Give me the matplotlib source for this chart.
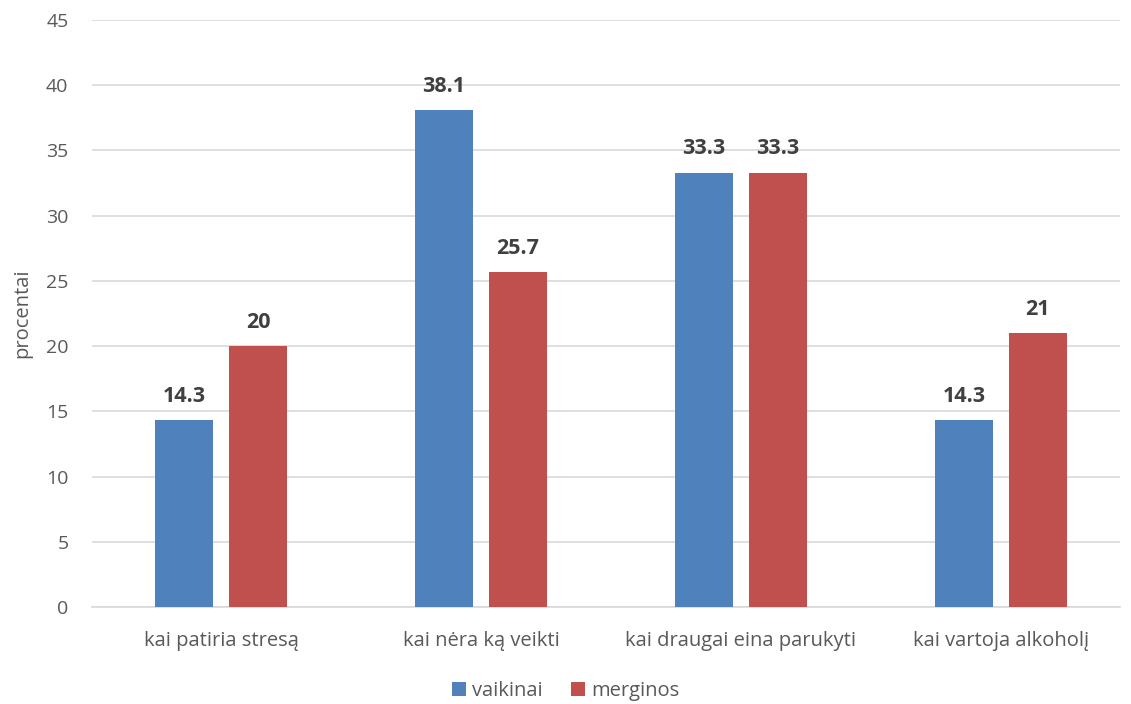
import numpy as np
import matplotlib.pyplot as plt

plt.rcParams['font.family'] = ['Open Sans', 'DejaVu Sans']

categories = ['kai patiria stresą', 'kai nėra ką veikti', 'kai draugai eina parukyti', 'kai vartoja alkoholį']
vaikinai = [14.3, 38.1, 33.3, 14.3]
merginos = [20, 25.7, 33.3, 21]
vaikinai_lbl = ['14.3', '38.1', '33.3', '14.3']
merginos_lbl = ['20', '25.7', '33.3', '21']

blue = '#4F81BD'
red = '#C0504D'
txt = '#595959'

fig = plt.figure(figsize=(11.31, 7.04), dpi=100)
ax = fig.add_axes([0.0814, 0.1378, 0.9089, 0.834])

x = np.arange(len(categories))
w = 0.223
off = 0.142
b1 = ax.bar(x - off, vaikinai, w, color=blue, label='vaikinai', zorder=3)
b2 = ax.bar(x + off, merginos, w, color=red, label='merginos', zorder=3)

for bars, labels in ((b1, vaikinai_lbl), (b2, merginos_lbl)):
    for b, l in zip(bars, labels):
        ax.text(b.get_x() + b.get_width() / 2, b.get_height() + 1.0, l,
                ha='center', va='bottom', fontsize=15.5, fontweight='bold', color='#404040')

ax.set_xlim(-0.496, 3.458)
ax.set_ylim(0, 45)
ax.set_yticks(range(0, 46, 5))
ax.set_xticks(x)
ax.set_xticklabels(categories)
ax.tick_params(axis='both', length=0, colors=txt)
ax.tick_params(axis='x', pad=17, labelsize=14.5)
ax.tick_params(axis='y', pad=17, labelsize=14)
ax.yaxis.grid(True, color='#D9D9D9', linewidth=1.2, zorder=0)
for s in ['top', 'right', 'left']:
    ax.spines[s].set_visible(False)
ax.spines['bottom'].set_color('#D9D9D9')
ax.spines['bottom'].set_linewidth(1.2)
ax.set_ylabel('procentai', fontsize=14.5, color=txt)
ax.yaxis.set_label_coords(-0.058, 0.5)

fig.legend(loc='lower center', bbox_to_anchor=(0.5, -0.022), ncol=2, frameon=False,
           fontsize=14.5, handlelength=0.7, handleheight=0.7, handletextpad=0.3,
           columnspacing=1.4, labelcolor=txt)

plt.savefig('out.png', dpi=100)
